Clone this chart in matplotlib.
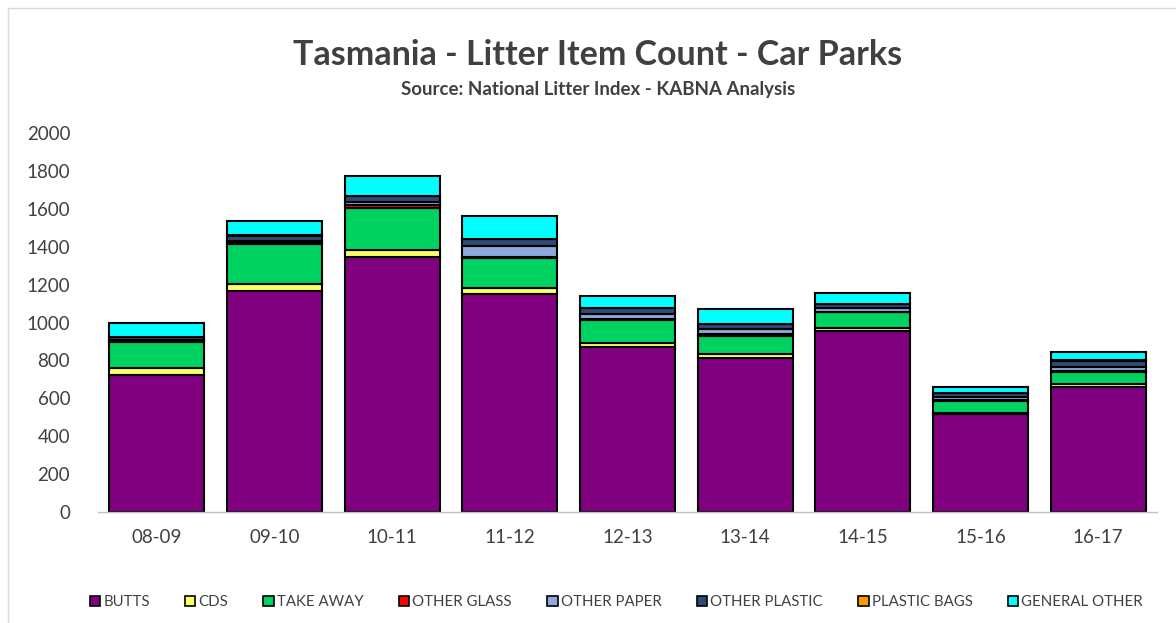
import matplotlib
matplotlib.use("Agg")
import matplotlib.pyplot as plt
from matplotlib.patches import Rectangle, Patch

# data
years = ["08-09", "09-10", "10-11", "11-12", "12-13", "13-14", "14-15", "15-16", "16-17"]
butts = [723, 1168, 1345, 1150, 872, 812, 957, 515, 661]
cds = [37, 35, 38, 34, 20, 20, 12, 8, 15]
take_away = [137, 211, 220, 158, 120, 95, 84, 62, 65]
other_glass = [3, 5, 15, 5, 5, 12, 3, 4, 5]
other_paper = [8, 12, 20, 56, 30, 27, 20, 18, 20]
other_plastic = [15, 25, 30, 37, 30, 25, 22, 20, 32]
plastic_bags = [2, 5, 2, 2, 2, 2, 2, 2, 2]
general_other = [74, 72, 105, 120, 60, 78, 58, 30, 46]

series = [
    ("BUTTS", butts, "#800080"),
    ("CDS", cds, "#FFFF66"),
    ("TAKE AWAY", take_away, "#00D262"),
    ("OTHER GLASS", other_glass, "#FF0000"),
    ("OTHER PAPER", other_paper, "#8EA9DB"),
    ("OTHER PLASTIC", other_plastic, "#2F4B73"),
    ("PLASTIC BAGS", plastic_bags, "#FF9900"),
    ("GENERAL OTHER", general_other, "#00FFFF"),
]

plt.rcParams["font.family"] = ["Lato", "DejaVu Sans"]

fig = plt.figure(figsize=(11.76, 6.23), dpi=100)
ax = fig.add_axes([98 / 1176, 1 - 512 / 623, 1059 / 1176, 379 / 623])

x = range(len(years))
bottom = [0] * len(years)
handles = []
for name, vals, color in series:
    ax.bar(x, vals, width=0.81, bottom=bottom, color=color,
           edgecolor="black", linewidth=1.5)
    bottom = [b + v for b, v in zip(bottom, vals)]
    handles.append(Patch(facecolor=color, edgecolor="black", linewidth=1.2, label=name))

ax.set_xlim(-0.5, len(years) - 0.5)
ax.set_ylim(0, 2000)
ax.set_yticks(range(0, 2001, 200))
ax.set_xticks(list(x))
ax.set_xticklabels(years)
ax.tick_params(axis="both", length=0, labelsize=13.5, colors="#404040")
ax.tick_params(axis="x", pad=12)
ax.tick_params(axis="y", pad=20)
for s in ["top", "right", "left"]:
    ax.spines[s].set_visible(False)
ax.spines["bottom"].set_color("#BFBFBF")
ax.spines["bottom"].set_linewidth(1.0)

fig.text(0.5085, 1 - 55 / 623, "Tasmania - Litter Item Count - Car Parks",
         ha="center", va="center", fontsize=24.5, fontweight="bold", color="#404040")
fig.text(0.5085, 1 - 89 / 623, "Source: National Litter Index - KABNA Analysis",
         ha="center", va="center", fontsize=13.5, fontweight="bold", color="#404040")

fig.legend(handles=handles, loc="center", bbox_to_anchor=(0.524, 1 - 602 / 623),
           ncol=8, frameon=False, fontsize=10.8, handlelength=0.7, handleheight=0.7,
           handletextpad=0.2, columnspacing=2.35, labelcolor="#404040")

# light chart border
fig.patches.append(Rectangle((8 / 1176, -0.01), 1.0, 1 - 8 / 623 + 0.01,
                             transform=fig.transFigure, fill=False,
                             edgecolor="#D9D9D9", linewidth=1.0))

fig.savefig("out.png", dpi=100)
